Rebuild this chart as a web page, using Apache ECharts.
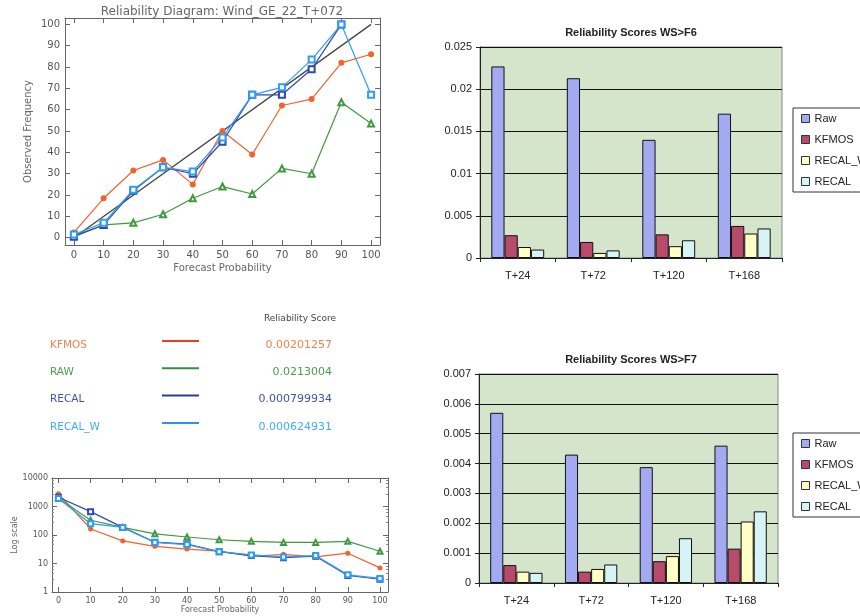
<!DOCTYPE html>
<html>
<head>
<meta charset="utf-8">
<title>Reliability</title>
<script src="https://cdn.jsdelivr.net/npm/echarts@6.0.0/dist/echarts.min.js"></script>
<style>
  html, body { margin: 0; padding: 0; background: #fff; }
  #main { width: 860px; height: 616px; }
</style>
</head>
<body>
<div id="main"></div>
<script>
// forecast probability bins (%)
var probs = [0, 10, 20, 30, 40, 50, 60, 70, 80, 90, 100];

// observed frequency (%) per bin - reliability diagram
var relKFMOS  = [2.5, 18.5, 31.5, 36.5, 25, 50, 39, 62, 65, 82, 86];
var relRAW    = [1, 6, 7, 11, 18.5, 24, 20.5, 32.5, 30, 63.5, 53.5];
var relRECAL  = [0.5, 6, 22, 33, 30, 45, 67, 67, 79, 100, null];
var relRECALW = [1.5, 7, 22.5, 33, 31, 47, 67, 70.5, 83.5, 100, 67];
var diagonal  = [[0, 0], [100, 100]];

// number of forecasts per bin (log scale)
var cntKFMOS  = [2800, 163, 62, 40, 32, 27, 18, 21, 17, 23, 7];
var cntRAW    = [2000, 330, 185, 110, 85, 68, 60, 55, 55, 60, 27];
var cntRECAL  = [2100, 660, 185, 56, 48, 26, 19, 16, 18, 3.8, 2.8];
var cntRECALW = [1900, 250, 185, 55, 46, 26, 20, 17, 19, 4, 3];

// legend table of the reliability diagram
var tableNames  = ['KFMOS', 'RAW', 'RECAL', 'RECAL_W'];
var tableScores = ['0.00201257', '0.0213004', '0.000799934', '0.000624931'];

// reliability scores by lead time
var horizons = ['T+24', 'T+72', 'T+120', 'T+168'];
var f6Raw    = [0.0227, 0.0213, 0.0140, 0.0171];
var f6KFMOS  = [0.0027, 0.0019, 0.0028, 0.0038];
var f6RECALW = [0.0013, 0.0006, 0.0014, 0.0029];
var f6RECAL  = [0.0010, 0.0009, 0.0021, 0.0035];
var f7Raw    = [0.0057, 0.0043, 0.00388, 0.0046];
var f7KFMOS  = [0.0006, 0.00038, 0.00073, 0.00115];
var f7RECALW = [0.00038, 0.00047, 0.0009, 0.00206];
var f7RECAL  = [0.00034, 0.00062, 0.0015, 0.0024];
var barNames = ['Raw', 'KFMOS', 'RECAL_W', 'RECAL'];

var lineCol = {KFMOS: '#f2622e', RAW: '#3f9a3f', RECAL: '#2e48b4', RECAL_W: '#2f9ef0'};
var textCol = {KFMOS: '#f38350', RAW: '#4a9e4a', RECAL: '#4052b0', RECAL_W: '#45aaf2'};
var keyCol  = {KFMOS: '#e8401e', RAW: '#3a8c40', RECAL: '#283c92', RECAL_W: '#2a92f0'};
var barCol  = ['#a3aaf2', '#b84a6c', '#ffffc6', '#d6f3f6'];

function pairs(arr) {
    return probs.map(function (p, i) { return [p, arr[i]]; });
}

var idlFont = 'DejaVu Sans';
var xlFont = 'Liberation Sans';

function idlAxis(grid, pos, min, max, show, fs, extra) {
    var ax = {
        gridIndex: grid, type: 'value', position: pos, min: min, max: max,
        axisLine: {show: true, onZero: false, lineStyle: {color: '#666', width: 1}},
        axisTick: {show: true, inside: true, length: 5, customValues: probs, lineStyle: {color: '#666'}},
        axisLabel: {show: show, customValues: probs, color: '#555', fontSize: fs, fontFamily: idlFont, margin: 5},
        splitLine: {show: false}
    };
    for (var k in extra) ax[k] = extra[k];
    return ax;
}

function logAxis(pos, show) {
    return {
        gridIndex: 1, type: 'log', logBase: 10, position: pos, min: 1, max: 10000,
        axisLine: {show: true, onZero: false, lineStyle: {color: '#666'}},
        axisTick: {show: true, inside: true, length: 5, lineStyle: {color: '#666'}},
        minorTick: {show: true, splitNumber: 5, length: 2, lineStyle: {color: '#888'}},
        axisLabel: {show: show, color: '#555', fontSize: 8, fontFamily: idlFont, margin: 4,
            formatter: function (v) { return String(Math.round(v)); }},
        splitLine: {show: false},
        name: show ? 'Log scale' : '', nameLocation: 'middle', nameGap: 30,
        nameTextStyle: {color: '#666', fontSize: 8, fontFamily: idlFont}
    };
}

function barX(grid) {
    return {
        gridIndex: grid, type: 'category', data: horizons,
        axisLine: {lineStyle: {color: '#222'}},
        axisTick: {show: true, length: 4, lineStyle: {color: '#222'}},
        axisLabel: {color: '#222', fontSize: 11, fontFamily: xlFont, margin: 12}
    };
}

function barY(grid, max, step) {
    return {
        gridIndex: grid, type: 'value', min: 0, max: max, interval: step,
        axisLine: {show: true, lineStyle: {color: '#222'}},
        axisTick: {show: true, length: 4, lineStyle: {color: '#222'}},
        axisLabel: {color: '#222', fontSize: 11, fontFamily: xlFont, margin: 8},
        splitLine: {show: true, lineStyle: {color: '#111', width: 1}}
    };
}

function barLegend(top) {
    return {
        data: barNames, orient: 'vertical', left: 793, top: top,
        icon: 'rect', itemWidth: 8, itemHeight: 8, itemGap: 10,
        padding: [5, 30, 5, 8],
        borderColor: '#333', borderWidth: 1, backgroundColor: '#fff',
        itemStyle: {borderColor: '#333', borderWidth: 1},
        textStyle: {color: '#222', fontSize: 11, fontFamily: xlFont}
    };
}

var series = [];
[[f6Raw, f6KFMOS, f6RECALW, f6RECAL], [f7Raw, f7KFMOS, f7RECALW, f7RECAL]].forEach(function (set, g) {
    set.forEach(function (vals, i) {
        series.push({
            name: barNames[i], type: 'bar', xAxisIndex: 4 + g, yAxisIndex: 4 + g,
            data: vals, barGap: '0%', barCategoryGap: '30%',
            itemStyle: {color: barCol[i], borderColor: '#111', borderWidth: 1}
        });
    });
});

var relSets = [['KFMOS', relKFMOS, 'circle'], ['RAW', relRAW, 'emptyTriangle'],
               ['RECAL', relRECAL, 'emptyRect'], ['RECAL_W', relRECALW, 'emptyRect']];
series.push({
    name: 'diag', type: 'line', xAxisIndex: 0, yAxisIndex: 0, data: diagonal,
    showSymbol: false, lineStyle: {color: '#444', width: 1.3}, z: 1
});
relSets.forEach(function (s) {
    series.push({
        name: 'rel ' + s[0], type: 'line', xAxisIndex: 0, yAxisIndex: 0,
        data: pairs(s[1]), symbol: s[2], symbolSize: 6,
        itemStyle: {color: lineCol[s[0]]},
        lineStyle: {color: lineCol[s[0]], width: 1.2}
    });
});

var cntSets = [['KFMOS', cntKFMOS, 'circle'], ['RAW', cntRAW, 'emptyTriangle'],
               ['RECAL', cntRECAL, 'emptyRect'], ['RECAL_W', cntRECALW, 'emptyRect']];
cntSets.forEach(function (s) {
    series.push({
        name: 'cnt ' + s[0], type: 'line', xAxisIndex: 2, yAxisIndex: 2,
        data: pairs(s[1]), symbol: s[2], symbolSize: 5,
        itemStyle: {color: lineCol[s[0]]},
        lineStyle: {color: lineCol[s[0]], width: 1.2}
    });
});

// titles and the legend table (text + colour keys)
var graphic = [
    {type: 'text', x: 222, y: 12, style: {text: 'Reliability Diagram: Wind_GE_22_T+072', fill: '#666',
        font: '12px "DejaVu Sans"', textAlign: 'center', textVerticalAlign: 'middle'}},
    {type: 'text', x: 631, y: 33, style: {text: 'Reliability Scores WS>F6', fill: '#222',
        font: 'bold 11px "Liberation Sans"', textAlign: 'center', textVerticalAlign: 'middle'}},
    {type: 'text', x: 631, y: 360, style: {text: 'Reliability Scores WS>F7', fill: '#222',
        font: 'bold 11px "Liberation Sans"', textAlign: 'center', textVerticalAlign: 'middle'}},
    {type: 'text', x: 300, y: 319, style: {text: 'Reliability Score', fill: '#444',
        font: '9px "DejaVu Sans"', textAlign: 'center', textVerticalAlign: 'middle'}}
];
tableNames.forEach(function (n, i) {
    var y = 345 + i * 27.3;
    graphic.push({type: 'text', x: 50, y: y, style: {text: n, fill: textCol[n],
        font: '10.5px "DejaVu Sans"', textAlign: 'left', textVerticalAlign: 'middle'}});
    graphic.push({type: 'line', shape: {x1: 162, y1: y - 4, x2: 199, y2: y - 4},
        style: {stroke: keyCol[n], lineWidth: 2}});
    graphic.push({type: 'text', x: 332, y: y, style: {text: tableScores[i], fill: textCol[n],
        font: '11px "DejaVu Sans"', textAlign: 'right', textVerticalAlign: 'middle'}});
});

var myChart = echarts.init(document.getElementById('main'));
var option = {
    backgroundColor: '#fff',
    animation: false,
    grid: [
        {left: 65, top: 18, width: 315, height: 227},
        {left: 52, top: 478, width: 336, height: 114},
        {left: 480, top: 47, width: 302, height: 211, show: true, backgroundColor: '#d5e5cc', borderColor: '#888', borderWidth: 1},
        {left: 479, top: 374, width: 299, height: 209, show: true, backgroundColor: '#d5e5cc', borderColor: '#888', borderWidth: 1}
    ],
    xAxis: [
        idlAxis(0, 'bottom', -3, 103, true, 10, {name: 'Forecast Probability', nameLocation: 'middle', nameGap: 18,
            nameTextStyle: {color: '#666', fontSize: 10, fontFamily: idlFont}}),
        idlAxis(0, 'top', -3, 103, false, 10, {}),
        idlAxis(1, 'bottom', -2, 102.5, true, 8, {name: 'Forecast Probability', nameLocation: 'middle', nameGap: 14,
            nameTextStyle: {color: '#666', fontSize: 8, fontFamily: idlFont}}),
        idlAxis(1, 'top', -2, 102.5, false, 8, {}),
        barX(2),
        barX(3)
    ],
    yAxis: [
        idlAxis(0, 'left', -3.4, 103, true, 10, {name: 'Observed Frequency', nameLocation: 'middle', nameGap: 32,
            nameTextStyle: {color: '#666', fontSize: 10, fontFamily: idlFont}}),
        idlAxis(0, 'right', -3.4, 103, false, 10, {}),
        logAxis('left', true),
        logAxis('right', false),
        barY(2, 0.025, 0.005),
        barY(3, 0.007, 0.001)
    ],
    legend: [barLegend(108), barLegend(433)],
    graphic: graphic,
    series: series
};
myChart.setOption(option);
</script>
</body>
</html>
